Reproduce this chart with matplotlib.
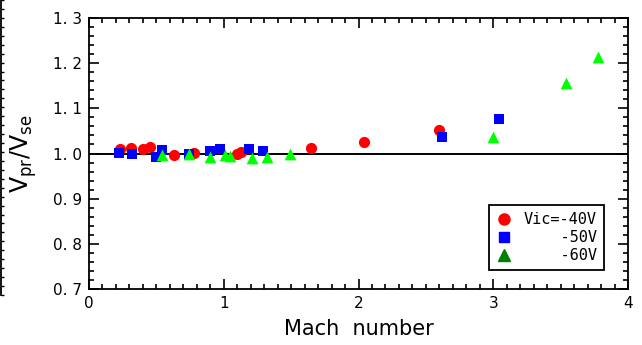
import matplotlib
matplotlib.use("Agg")
import matplotlib.pyplot as plt
from matplotlib.ticker import MultipleLocator
from matplotlib.lines import Line2D

# Vic = -40V
mach_40 = [0.23, 0.31, 0.40, 0.45, 0.63, 0.78, 1.10, 1.13, 1.65, 2.04, 2.60]
ratio_40 = [1.010, 1.013, 1.010, 1.015, 0.997, 1.001, 1.000, 1.004, 1.013, 1.025, 1.053]

# Vic = -50V
mach_50 = [0.22, 0.32, 0.50, 0.54, 0.74, 0.90, 0.97, 1.19, 1.29, 2.62, 3.04]
ratio_50 = [1.002, 0.998, 0.993, 1.008, 1.000, 1.006, 1.010, 1.009, 1.006, 1.037, 1.076]

# Vic = -60V
mach_60 = [0.54, 0.74, 0.90, 1.01, 1.05, 1.21, 1.32, 1.49, 3.00, 3.54, 3.78]
ratio_60 = [0.997, 0.999, 0.993, 0.996, 0.994, 0.989, 0.993, 0.999, 1.036, 1.157, 1.214]

legend_labels = ["Vic=-40V", "    -50V", "    -60V"]

fig = plt.figure(figsize=(6.42, 3.45), dpi=100)
ax = fig.add_axes([89 / 642, 1 - 289 / 345, (628 - 89) / 642, (289 - 18) / 345])

ax.axhline(1.0, color="black", lw=1.4, zorder=1)
ax.scatter(mach_40, ratio_40, s=65, marker="o", color="#ff0000", linewidths=0, zorder=3)
ax.scatter(mach_50, ratio_50, s=58, marker="s", color="#0000ff", linewidths=0, zorder=3)
ax.scatter(mach_60, ratio_60, s=72, marker="^", color="#00ff00", linewidths=0, zorder=4)

ax.set_xlim(0, 4)
ax.set_ylim(0.7, 1.3)
ax.xaxis.set_major_locator(MultipleLocator(1))
ax.xaxis.set_minor_locator(MultipleLocator(0.1))
ax.yaxis.set_major_locator(MultipleLocator(0.1))
ax.yaxis.set_minor_locator(MultipleLocator(0.02))
ax.tick_params(which="both", direction="in", top=True, right=True, width=1.2)
ax.tick_params(which="major", length=7, labelsize=11, pad=5)
ax.tick_params(which="minor", length=3.5)
ax.set_yticks([0.7, 0.8, 0.9, 1.0, 1.1, 1.2, 1.3])
ax.set_yticklabels(["0. 7", "0. 8", "0. 9", "1. 0", "1. 1", "1. 2", "1. 3"])
for sp in ax.spines.values():
    sp.set_linewidth(1.3)

ax.set_xlabel("Mach  number", fontsize=15, labelpad=6)
ax.set_ylabel(r"$\mathregular{V_{pr}/V_{se}}$", fontsize=17, labelpad=10)

handles = [
    Line2D([], [], ls="none", marker="o", color="#ff0000", markersize=8),
    Line2D([], [], ls="none", marker="s", color="#0000ff", markersize=7.5),
    Line2D([], [], ls="none", marker="^", color="#008000", markersize=8),
]
leg = ax.legend(handles, legend_labels, loc="lower right", bbox_to_anchor=(0.955, 0.07),
                borderaxespad=0, frameon=True, fancybox=False, edgecolor="black",
                framealpha=1, prop={"family": "DejaVu Sans Mono", "size": 11},
                handlelength=1.0, handletextpad=0.8, labelspacing=0.2, borderpad=0.45)
leg.get_frame().set_linewidth(1.3)

# edge of neighbouring panel at far left
side = fig.add_axes([0.002, 1 - 295 / 345, 0.01, 295 / 345])
side.set_xlim(0, 1)
side.set_ylim(0, 1)
for name in ["top", "right", "bottom"]:
    side.spines[name].set_visible(False)
side.spines["left"].set_linewidth(1.3)
side.set_xticks([])
side.yaxis.set_major_locator(MultipleLocator(1 / 33))
side.tick_params(axis="y", direction="in", length=2, width=1, labelleft=False)
side.patch.set_alpha(0)

fig.savefig("out.png", dpi=100)
